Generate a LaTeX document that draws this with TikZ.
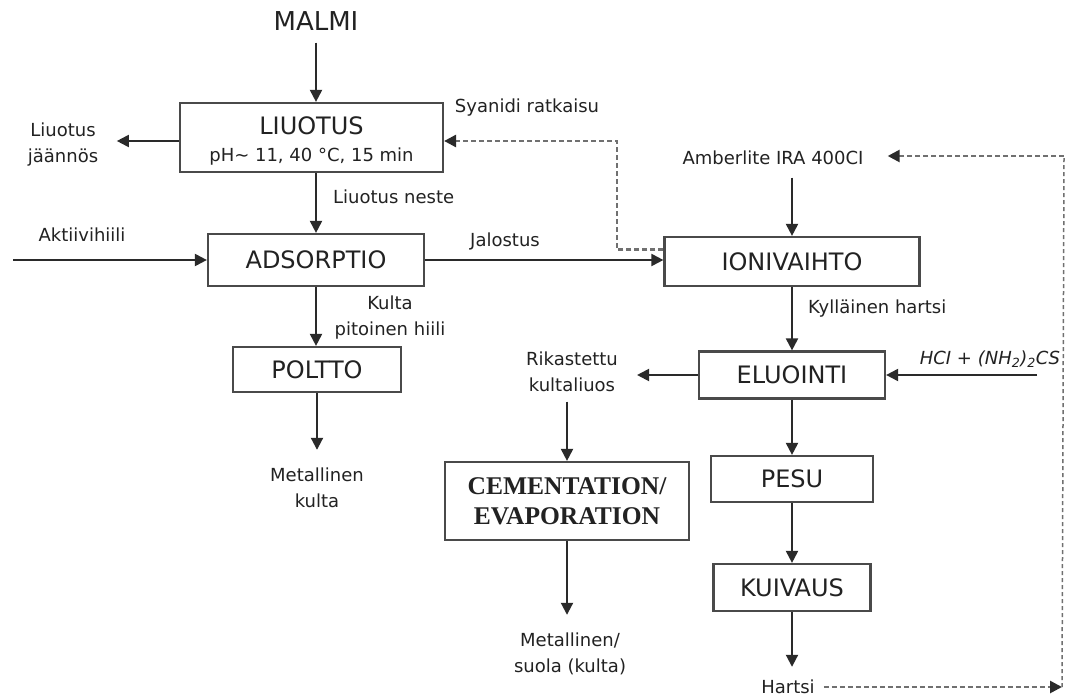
\documentclass[tikz,border=0pt]{standalone}
\usepackage{fontspec}
\setmainfont{DejaVu Sans}
\newfontfamily\cemfont{Liberation Serif}
\usetikzlibrary{arrows.meta}
\definecolor{boxc}{HTML}{4A4A4A}
\definecolor{arrc}{HTML}{2A2A2A}
\definecolor{dashc}{HTML}{707070}
\definecolor{txtc}{HTML}{222222}
\begin{document}
\begin{tikzpicture}[x=1pt,y=-1pt,
  box/.style={draw=boxc, line width=2.2pt, fill=white, inner sep=0pt, font=\fontsize{24}{28}\selectfont, text=txtc},
  ttl/.style={font=\fontsize{24}{28}\selectfont, text=txtc, text height=17.5pt, text depth=0pt},
  lab/.style={font=\fontsize{18}{26}\selectfont, text=txtc, inner sep=3pt, text height=13pt, text depth=0pt},
  lab2/.style={font=\fontsize{18}{26}\selectfont, text=txtc, inner sep=3pt, align=center, text height=39pt, text depth=0pt},
  arr/.style={draw=arrc, line width=2pt, -{Triangle[length=12pt,width=12pt]}},
  darr/.style={draw=dashc, line width=2.6pt, dash pattern=on 5pt off 3pt, -{Triangle[length=12pt,width=12pt,color=arrc]}},
  vdash/.style={draw=dashc, line width=1.5pt, dash pattern=on 4pt off 3pt},
]
\useasboundingbox[fill=white] (0,0) rectangle (1067,698);

% boxes
\node[box, minimum width=263pt, minimum height=69pt] (liuotus) at (311.5,137.5) {};
\node[ttl] (liuotusT) at (311.5,126) {LIUOTUS};
\node[lab] (liuotusC) at (311.5,155) {pH\textasciitilde{} 11, 40 °C, 15 min};
\node[box, minimum width=216pt, minimum height=52pt] (adsorptio) at (316,260) {ADSORPTIO};
\node[box, minimum width=255pt, minimum height=49pt] (ionivaihto) at (792,261.5) {IONIVAIHTO};
\node[box, minimum width=168pt, minimum height=45pt] (poltto) at (317,369.5) {POLTTO};
\node[box, minimum width=186pt, minimum height=47pt] (eluointi) at (792,375) {ELUOINTI};
\node[box, minimum width=244pt, minimum height=78pt, align=center, font=\cemfont\bfseries\fontsize{25.5}{30}\selectfont] (cement) at (567,501) {CEMENTATION/\\EVAPORATION};
\node[box, minimum width=162pt, minimum height=46pt] (pesu) at (792,479) {PESU};
\node[box, minimum width=157pt, minimum height=47pt] (kuivaus) at (792,587.5) {KUIVAUS};

% labels
\node[font=\fontsize{26}{30}\selectfont, text height=19pt, text depth=0pt, text=txtc] (malmi) at (316,21) {MALMI};
\node[lab2] (jaannos) at (63,142.5) {Liuotus\\jäännös};
\node[lab, anchor=west] (neste) at (330,197) {Liuotus neste};
\node[lab] (aktiivi) at (82,235) {Aktiivihiili};
\node[lab] (jalostus) at (505,240) {Jalostus};
\node[lab] (syanidi) at (527,106) {Syanidi ratkaisu};
\node[lab] (amber) at (773,158) {Amberlite IRA 400CI};
\node[lab, anchor=west] (kyll) at (805,307) {Kylläinen hartsi};
\node[lab] (hcl) at (990,358) {\itshape HCI + (NH\textsubscript{2})\textsubscript{2}CS};
\node[lab2] (rikast) at (572,372) {Rikastettu\\kultaliuos};
\node[lab2] (kulta) at (390,316) {Kulta\\pitoinen hiili};
\node[lab2] (metkulta) at (317,487.5) {Metallinen\\kulta};
\node[lab2] (metsuola) at (570,652.5) {Metallinen/\\suola (kulta)};
\node[lab] (hartsi) at (788,687) {Hartsi};

% free ends
\coordinate (aS) at (13,260);
\coordinate (hS) at (1037,375);
\coordinate (sC) at (617,141);
\coordinate (rb) at (1062,687);
\coordinate (rt) at (1064,156);

% connectors
\draw[arr] ([yshift=-8.5pt]malmi.south) -- (liuotus.north -| malmi.south);
\draw[arr] ([yshift=-3.5pt]liuotus.west) -- ([xshift=15.5pt,yshift=1.5pt]jaannos.east);
\draw[arr] (liuotus.south -| adsorptio.north) -- (adsorptio.north);
\draw[arr] (aS) -- (adsorptio.west);
\draw[arr] (adsorptio.east) -- (ionivaihto.west |- adsorptio.east);
\draw[darr] ([yshift=12pt]ionivaihto.west) -| (sC) -- (liuotus.east |- sC);
\draw[arr] ([yshift=-10pt]amber.south -| ionivaihto.north) -- (ionivaihto.north);
\draw[arr] (ionivaihto.south) -- (eluointi.north);
\draw[arr] (hS) -- (eluointi.east);
\draw[arr] (eluointi.west) -- ([xshift=16pt,yshift=-3pt]rikast.east);
\draw[arr] ([yshift=-7pt]rikast.south -| cement.north) -- (cement.north);
\draw[arr] (cement.south) -- ([yshift=15pt]metsuola.north -| cement.south);
\draw[arr] (adsorptio.south) -- (poltto.north -| adsorptio.south);
\draw[arr] (poltto.south) -- ([yshift=15pt]metkulta.north -| poltto.south);
\draw[arr] (eluointi.south) -- (pesu.north);
\draw[arr] (pesu.south) -- (kuivaus.north);
\draw[arr] (kuivaus.south) -- ([yshift=10.5pt]hartsi.north -| kuivaus.south);
\draw[darr] ([xshift=6pt]hartsi.east) -- (rb);
\draw[vdash] (rb) -- (rt);
\draw[darr] (rt) -- ([xshift=21pt]amber.east |- rt);
\end{tikzpicture}
\end{document}
